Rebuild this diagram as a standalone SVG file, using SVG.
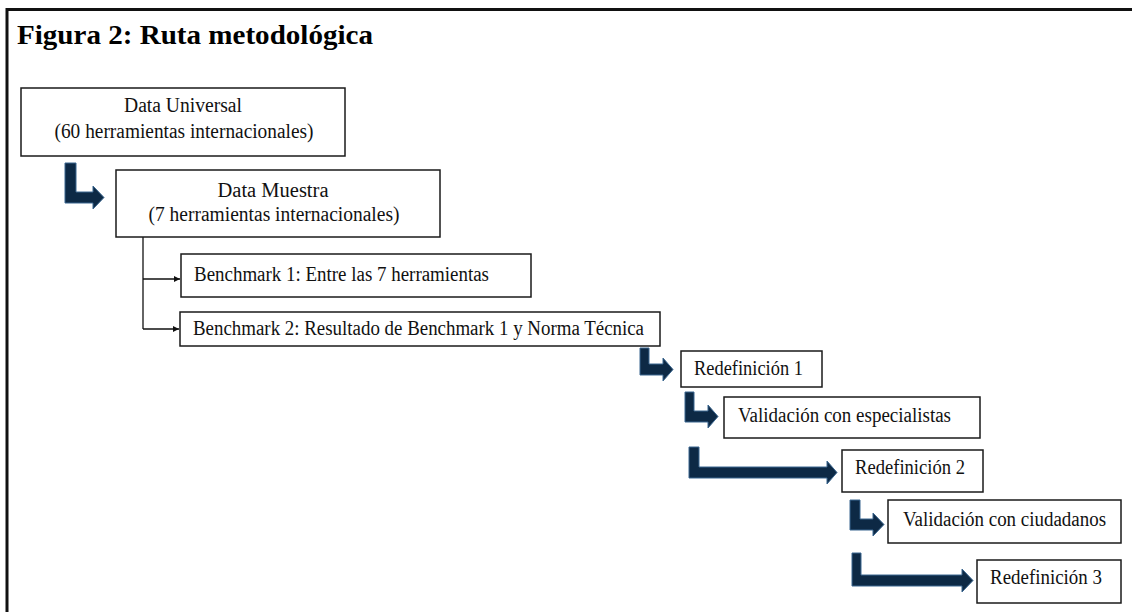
<svg xmlns="http://www.w3.org/2000/svg" width="1132" height="612" viewBox="0 0 1132 612">
<style>
.box{fill:#fff;stroke:#1a1a1a;stroke-width:1.5}
.t{font-family:'Liberation Serif','Times New Roman',Times,serif;font-size:20px;fill:#111}
.title{font-family:'Liberation Serif','Times New Roman',Times,serif;font-size:28px;font-weight:bold;fill:#000}
.big{fill:#0d2945;stroke:#3b6790;stroke-width:1}
.thin{fill:none;stroke:#111;stroke-width:1.3}
</style>
<defs>
<marker id="ah" viewBox="0 0 10 10" refX="10" refY="5" markerWidth="6" markerHeight="6" orient="auto" markerUnits="userSpaceOnUse">
<path d="M0,0 L10,5 L0,10 Z" fill="#111"/>
</marker>
</defs>
<rect width="1132" height="612" fill="#fff"/>
<path d="M7,612 V9.5 H1132" fill="none" stroke="#111" stroke-width="3"/>
<text class="title" x="17" y="44" textLength="356" lengthAdjust="spacingAndGlyphs">Figura 2: Ruta metodológica</text>

<g id="connectors">
<path class="big" d="M65,163 H76 V192 H93 V186 L104,197.5 L93,209 V203 H65 Z"/>
<path class="thin" d="M143,237 V329"/>
<path class="thin" d="M143,279 H180" marker-end="url(#ah)"/>
<path class="thin" d="M143,329 H179" marker-end="url(#ah)"/>
<path class="big" d="M640,348 H649 V364 H663 V358 L673,369.5 L663,381 V375 H640 Z"/>
<path class="big" d="M685,392 H694 V411 H708 V405 L718,416.5 L708,428 V422 H685 Z"/>
<path class="big" d="M689,447 H699 V467 H827 V461 L837,472.5 L827,484 V478 H689 Z"/>
<path class="big" d="M850,500 H860 V519 H873 V513 L884,524.5 L873,536 V530 H850 Z"/>
<path class="big" d="M852,553 H861 V575 H962 V569 L973,580.5 L962,592 V586 H852 Z"/>
</g>

<g id="n1">
<rect class="box" x="21" y="88" width="324" height="68"/>
<text class="t" x="183" y="112" text-anchor="middle" textLength="118" lengthAdjust="spacingAndGlyphs">Data Universal</text>
<text class="t" x="184" y="138" text-anchor="middle" textLength="259" lengthAdjust="spacingAndGlyphs">(60 herramientas internacionales)</text>
</g>
<g id="n2">
<rect class="box" x="116" y="170" width="324" height="67"/>
<text class="t" x="273" y="197" text-anchor="middle" textLength="111" lengthAdjust="spacingAndGlyphs">Data Muestra</text>
<text class="t" x="274" y="221" text-anchor="middle" textLength="251" lengthAdjust="spacingAndGlyphs">(7 herramientas internacionales)</text>
</g>
<g id="n3">
<rect class="box" x="181" y="254" width="350" height="43"/>
<text class="t" x="194" y="281" textLength="295" lengthAdjust="spacingAndGlyphs">Benchmark 1: Entre las 7 herramientas</text>
</g>
<g id="n4">
<rect class="box" x="180" y="312" width="480" height="34"/>
<text class="t" x="193" y="335" textLength="451" lengthAdjust="spacingAndGlyphs">Benchmark 2: Resultado de Benchmark 1 y Norma Técnica</text>
</g>
<g id="n5">
<rect class="box" x="681" y="351" width="141" height="36"/>
<text class="t" x="694" y="375" textLength="109" lengthAdjust="spacingAndGlyphs">Redefinición 1</text>
</g>
<g id="n6">
<rect class="box" x="724" y="397" width="256" height="41"/>
<text class="t" x="738" y="422" textLength="213" lengthAdjust="spacingAndGlyphs">Validación con especialistas</text>
</g>
<g id="n7">
<rect class="box" x="842" y="450" width="141" height="42"/>
<text class="t" x="855" y="474" textLength="110" lengthAdjust="spacingAndGlyphs">Redefinición 2</text>
</g>
<g id="n8">
<rect class="box" x="888" y="500" width="233" height="43"/>
<text class="t" x="903" y="526" textLength="203" lengthAdjust="spacingAndGlyphs">Validación con ciudadanos</text>
</g>
<g id="n9">
<rect class="box" x="977" y="560" width="144" height="43"/>
<text class="t" x="990" y="584" textLength="112" lengthAdjust="spacingAndGlyphs">Redefinición 3</text>
</g>
</svg>
